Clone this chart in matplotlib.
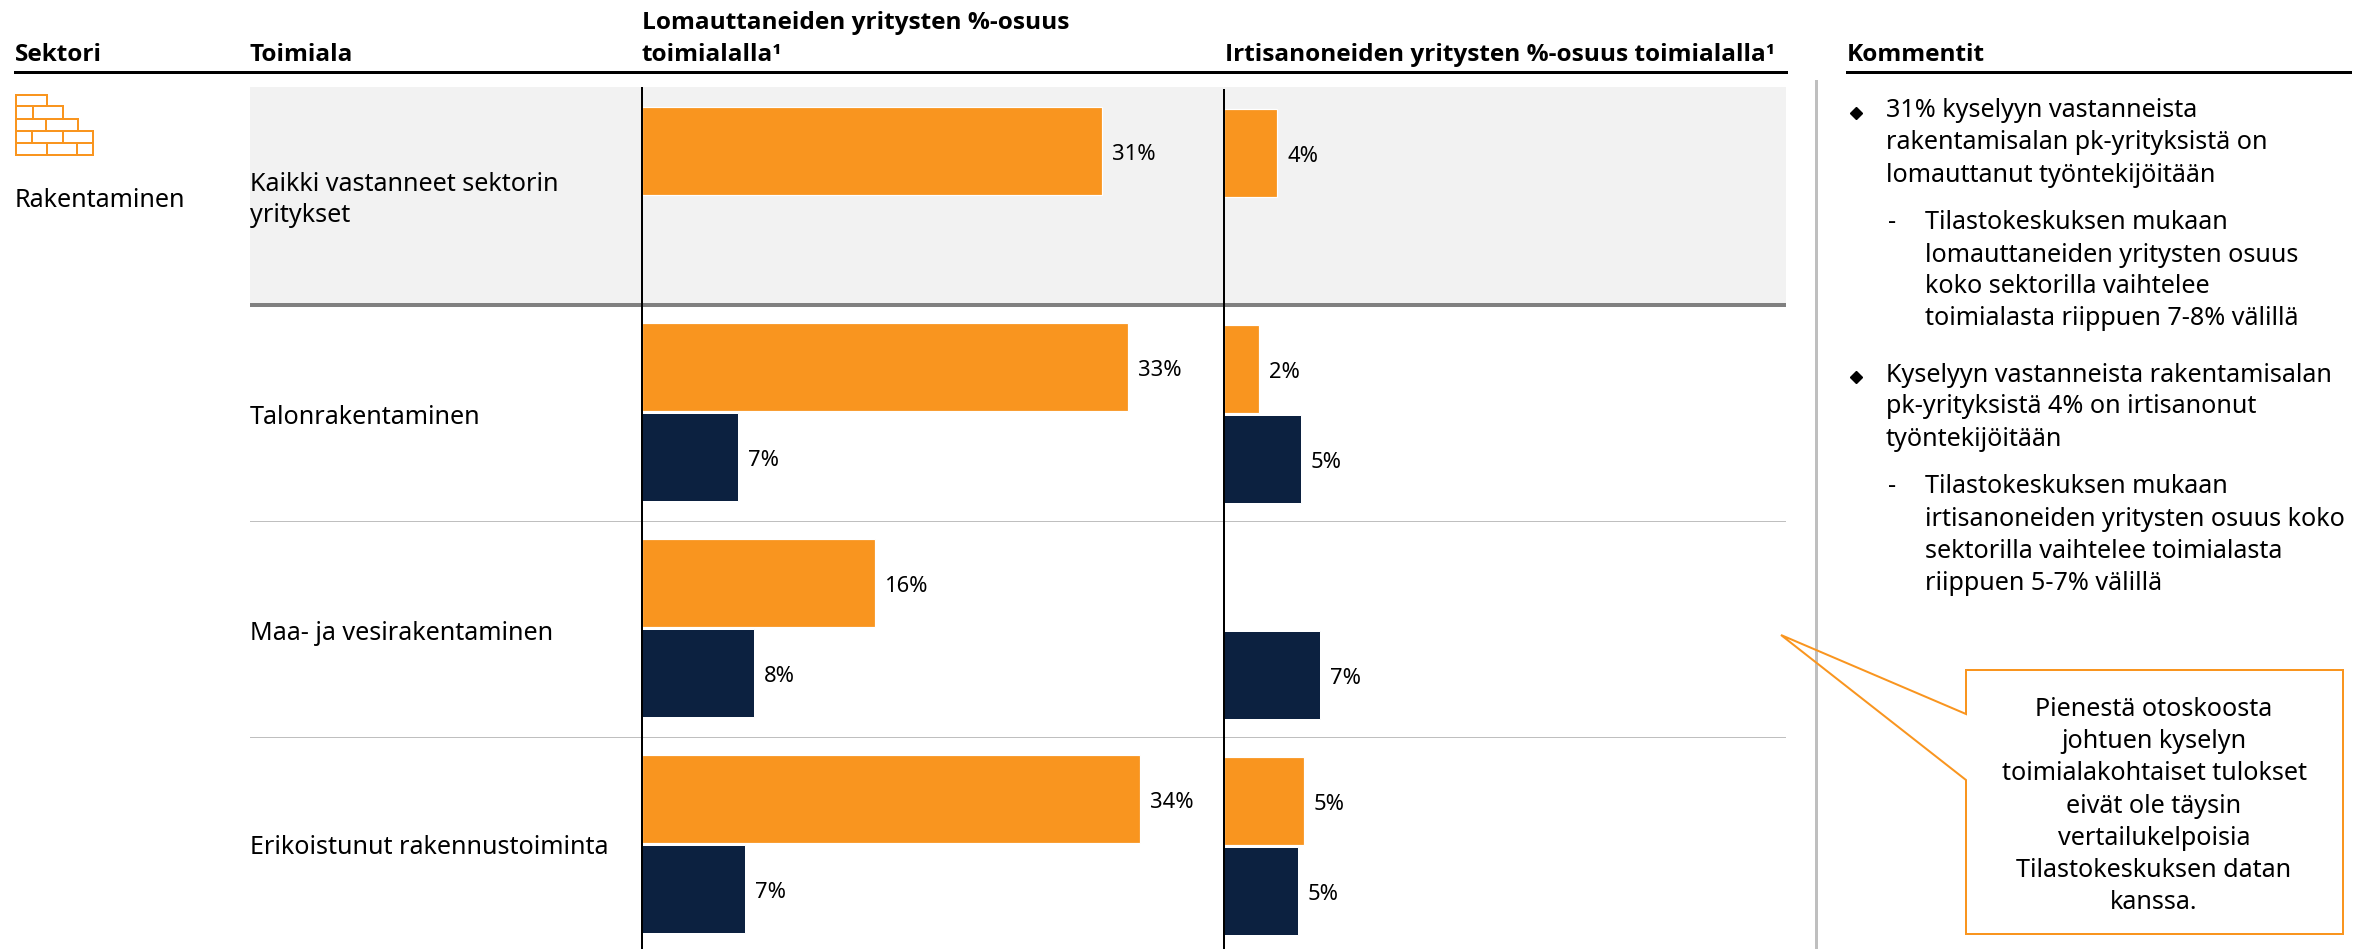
import numpy as np
import matplotlib
matplotlib.use("Agg")
import matplotlib.pyplot as plt
from matplotlib.patches import Polygon, Rectangle

W, H = 2372, 949
ORANGE = "#F9951F"
NAVY = "#0C2140"
FONT = "Noto Sans"
SIZE = 18.1

plt.rcParams["font.family"] = [FONT, "DejaVu Sans"]

# luvut luettu kuvasta (palkkien pituudet, prosenttia)
toimialat = [
    "Kaikki vastanneet sektorin\nyritykset",
    "Talonrakentaminen",
    "Maa- ja vesirakentaminen",
    "Erikoistunut rakennustoiminta",
]
lomautus_otos = [31.2, 33.0, 15.8, 33.8]
lomautus_tk = [np.nan, 6.5, 7.6, 7.0]
irtisanominen_otos = [3.6, 2.4, np.nan, 5.4]
irtisanominen_tk = [np.nan, 5.2, 6.5, 5.0]

lomautus_otos_txt = ["31%", "33%", "16%", "34%"]
lomautus_tk_txt = ["", "7%", "8%", "7%"]
irtisanominen_otos_txt = ["4%", "2%", "", "5%"]
irtisanominen_tk_txt = ["", "5%", "7%", "5%"]

kommentit = [
    (1886, 117, "31% kyselyyn vastanneista"),
    (1886, 149, "rakentamisalan pk-yrityksistä on"),
    (1886, 182, "lomauttanut työntekijöitään"),
    (1925, 229, "Tilastokeskuksen mukaan"),
    (1925, 262, "lomauttaneiden yritysten osuus"),
    (1925, 293, "koko sektorilla vaihtelee"),
    (1925, 325, "toimialasta riippuen 7-8% välillä"),
    (1886, 382, "Kyselyyn vastanneista rakentamisalan"),
    (1886, 413, "pk-yrityksistä 4% on irtisanonut"),
    (1886, 446, "työntekijöitään"),
    (1925, 493, "Tilastokeskuksen mukaan"),
    (1925, 526, "irtisanoneiden yritysten osuus koko"),
    (1925, 558, "sektorilla vaihtelee toimialasta"),
    (1925, 590, "riippuen 5-7% välillä"),
]
huomautus = [
    "Pienestä otoskoosta",
    "johtuen kyselyn",
    "toimialakohtaiset tulokset",
    "eivät ole täysin",
    "vertailukelpoisia",
    "Tilastokeskuksen datan",
    "kanssa.",
]

PX_PER_PCT = 14.74
ROW_PX = 216
BAR_H = 0.41
OFFSET = 0.208


def pisteet(px):
    return px * 72 / 100


def tiili_ikoni(ax):
    tasot = [95, 106, 119, 131, 143, 155]
    oikeat = [47, 63, 78, 93, 93]
    saumat = [[], [33], [46], [32, 63], [47, 77]]
    for i, oikea in enumerate(oikeat):
        ax.add_patch(Rectangle((16, tasot[i]), oikea - 16, tasot[i + 1] - tasot[i],
                               fill=False, edgecolor=ORANGE, lw=pisteet(2)))
        for x in saumat[i]:
            ax.plot([x, x], [tasot[i], tasot[i + 1]], color=ORANGE, lw=pisteet(2))


def palkit(vasen, yla, otos, tk, otos_txt, tk_txt):
    ax = fig.add_axes([vasen / W, 0, 560 / W, (H - yla) / H])
    ax.patch.set_alpha(0)
    rivit = np.arange(len(otos))
    ax.barh(rivit - OFFSET, otos, BAR_H, color=ORANGE, edgecolor="white", lw=pisteet(1.2))
    ax.barh(rivit + OFFSET, tk, BAR_H, color=NAVY, edgecolor="white", lw=pisteet(1))
    for arvot, tekstit, y in [(otos, otos_txt, rivit - OFFSET), (tk, tk_txt, rivit + OFFSET)]:
        for v, t, yy in zip(arvot, tekstit, y):
            if t:
                ax.annotate(t, (v, yy), xytext=(pisteet(10), pisteet(-9)),
                            textcoords="offset points", va="baseline", fontsize=15.8)
    ax.set_xlim(0, 560 / PX_PER_PCT)
    ax.set_ylim(-0.5 + (H - yla) / ROW_PX, -0.5)
    ax.set_xticks([])
    ax.set_yticks([])
    for s in ["top", "right", "bottom"]:
        ax.spines[s].set_visible(False)
    ax.spines["left"].set_linewidth(pisteet(2))
    ax.spines["left"].set_color("black")
    return ax


fig = plt.figure(figsize=(W / 100, H / 100), dpi=100)

tausta = fig.add_axes([0, 0, 1, 1])
tausta.set_xlim(0, W)
tausta.set_ylim(H, 0)
tausta.axis("off")

# otsikot ja viivat
for x, y, t in [
    (15, 61, "Sektori"),
    (250, 61, "Toimiala"),
    (642, 29, "Lomauttaneiden yritysten %-osuus"),
    (642, 61, "toimialalla¹"),
    (1225, 61, "Irtisanoneiden yritysten %-osuus toimialalla¹"),
    (1847, 61, "Kommentit"),
]:
    tausta.text(x, y, t, fontsize=17.6, family=["Open Sans", "DejaVu Sans"],
                fontweight="bold", va="baseline")
tausta.plot([15, 1786], [72, 72], color="black", lw=pisteet(3))
tausta.plot([1847, 2350], [72, 72], color="black", lw=pisteet(3))

tausta.add_patch(Rectangle((250, 87), 1536, 216, facecolor="#F2F2F2", edgecolor="none"))
tausta.plot([250, 1786], [305, 305], color="#808080", lw=pisteet(4), solid_capstyle="butt")
for y in [521, 737]:
    tausta.plot([250, 1786], [y, y], color="#808080", lw=pisteet(1), ls=(0, (1, 1)))
tausta.plot([1816, 1816], [81, H], color="#BFBFBF", lw=pisteet(3))

tiili_ikoni(tausta)
tausta.text(15, 207, "Rakentaminen", fontsize=SIZE, va="baseline")

tausta.text(250, 191, "Kaikki vastanneet sektorin", fontsize=SIZE, va="baseline")
tausta.text(250, 222, "yritykset", fontsize=SIZE, va="baseline")
for y, t in zip([424, 640, 854], toimialat[1:]):
    tausta.text(250, y, t, fontsize=SIZE, va="baseline")

# kommentit
for x, y, t in kommentit:
    tausta.text(x, y, t, fontsize=SIZE, va="baseline")
tausta.plot([1855.5, 1855.5], [113, 377], ls="none", marker="D", ms=pisteet(8), color="black")
tausta.text(1888, 229, "-", fontsize=SIZE, va="baseline")
tausta.text(1888, 493, "-", fontsize=SIZE, va="baseline")

# huomautuslaatikko
tausta.add_patch(Polygon([(1966, 670), (2343, 670), (2343, 934), (1966, 934), (1966, 780),
                          (1781, 635), (1966, 714)],
                         closed=True, facecolor="none", edgecolor=ORANGE, lw=pisteet(2), zorder=5))
tausta.add_patch(Rectangle((1967, 671), 375, 262, facecolor="white", edgecolor="none", zorder=4))
for i, t in enumerate(huomautus):
    tausta.text(2154, 716 + i * 32.2, t, fontsize=SIZE, ha="center", va="baseline", zorder=6)

palkit(642, 88, lomautus_otos, lomautus_tk, lomautus_otos_txt, lomautus_tk_txt)
palkit(1224, 90, irtisanominen_otos, irtisanominen_tk, irtisanominen_otos_txt, irtisanominen_tk_txt)

fig.savefig("out.png", dpi=100)
